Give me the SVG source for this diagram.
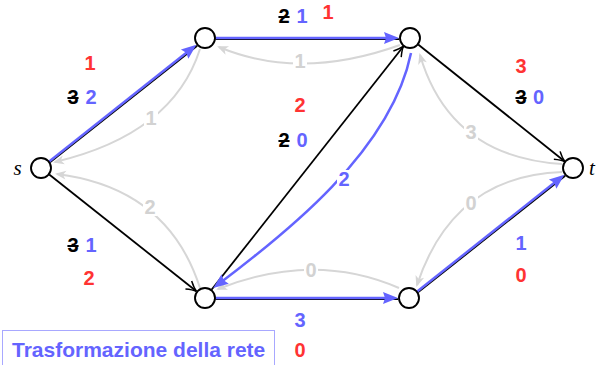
<svg xmlns="http://www.w3.org/2000/svg" width="598" height="365" viewBox="0 0 598 365">
<style>
.node{fill:#fff;stroke:#000;stroke-width:1.9}
.lbl{font-family:"Liberation Sans",Arial,sans-serif;font-weight:bold;font-size:20px;text-anchor:middle}
.red{fill:#ff3333}
.blue{fill:#6464ff}
.gray{fill:#d2d2d2}
.strike{fill:#000;text-decoration:line-through}
.gline{fill:none;stroke:#d6d6d6;stroke-width:2}
.bline{fill:none;stroke:#6464ff;stroke-width:2.5}
.kline{fill:none;stroke:#000;stroke-width:1.8}
.gap{fill:#fff}
.nm{font-family:"Liberation Serif","Times New Roman",serif;font-style:italic;font-size:21px}
</style>
<defs>
<marker id="ag" markerWidth="12" markerHeight="10" refX="9" refY="5" orient="auto" markerUnits="userSpaceOnUse" overflow="visible"><path d="M0,0.5 L11,5 L0,9.5 L3,5 Z" fill="#d6d6d6"/></marker>
<marker id="ab" markerWidth="16" markerHeight="12" refX="9" refY="6" orient="auto" markerUnits="userSpaceOnUse" overflow="visible"><path d="M0,0 L15,6 L0,12 L2,6 Z" fill="#6464ff"/></marker>
<marker id="ak" markerWidth="12" markerHeight="12" refX="10" refY="6" orient="auto" markerUnits="userSpaceOnUse" overflow="visible"><path d="M0,1 Q6,5 10,6 Q6,7 0,11" fill="none" stroke="#000" stroke-width="1.5"/></marker>
</defs>

<g id="connectors">
  <!-- residual (gray) arcs -->
  <path class="gline" d="M200,49 Q173,134 55,162" marker-end="url(#ag)"/>
  <path class="gline" d="M200,288 Q168,188 57,174" marker-end="url(#ag)"/>
  <path class="gline" d="M400,45 Q300,81 219,47" marker-end="url(#ag)"/>
  <path class="gline" d="M562,164 Q450,157 420,55" marker-end="url(#ag)"/>
  <path class="gline" d="M562,172 Q453,176 417,285" marker-end="url(#ag)"/>
  <path class="gline" d="M399,288 Q314,251 218,289" marker-end="url(#ag)"/>

  <!-- black network edges -->
  <line class="kline" x1="50" y1="162.4" x2="197.2" y2="45.7"/>
  <line class="kline" x1="215.5" y1="39.2" x2="399" y2="39.2"/>
  <line class="kline" x1="215.5" y1="299.2" x2="398" y2="299.2"/>
  <line class="kline" x1="418" y1="292.4" x2="565.2" y2="175.7"/>
  <line class="kline" x1="49.2" y1="174.5" x2="196.4" y2="291.2" marker-end="url(#ak)"/>
  <line class="kline" x1="211.5" y1="289.8" x2="403.5" y2="46.2" marker-end="url(#ak)"/>
  <line class="kline" x1="418.2" y1="44.5" x2="564.8" y2="161.5" marker-end="url(#ak)"/>

  <!-- blue flow edges -->
  <line class="bline" x1="49.2" y1="161.5" x2="191.7" y2="48.5" marker-end="url(#ab)"/>
  <line class="bline" x1="215.5" y1="38" x2="393" y2="38" marker-end="url(#ab)"/>
  <line class="bline" x1="215.5" y1="298" x2="392" y2="298" marker-end="url(#ab)"/>
  <line class="bline" x1="417.2" y1="291.5" x2="559.7" y2="178.5" marker-end="url(#ab)"/>
  <path class="bline" d="M411,53 C391,151 285,234 218,284.5" marker-end="url(#ab)"/>

  <!-- label gaps -->
  <rect class="gap" x="144" y="109" width="14" height="19"/>
  <rect class="gap" x="143" y="197" width="14" height="19"/>
  <rect class="gap" x="293" y="52" width="14" height="19"/>
  <rect class="gap" x="464" y="124" width="14" height="19"/>
  <rect class="gap" x="464" y="194" width="14" height="19"/>
  <rect class="gap" x="304" y="261" width="14" height="19"/>
  <rect class="gap" x="337" y="170" width="14" height="19"/>

  <!-- arc labels -->
  <text class="lbl gray" x="151" y="125">1</text>
  <text class="lbl gray" x="150" y="214">2</text>
  <text class="lbl gray" x="300" y="68">1</text>
  <text class="lbl gray" x="471" y="139">3</text>
  <text class="lbl gray" x="471" y="210">0</text>
  <text class="lbl gray" x="311" y="277">0</text>
  <text class="lbl blue" x="344" y="186">2</text>

  <!-- edge labels -->
  <text class="lbl red" x="90" y="70">1</text>
  <text class="lbl strike" x="73" y="104">3</text>
  <text class="lbl blue" x="91" y="104">2</text>

  <text class="lbl strike" x="284" y="23">2</text>
  <text class="lbl blue" x="302" y="23">1</text>
  <text class="lbl red" x="328" y="18.5">1</text>

  <text class="lbl red" x="300" y="112">2</text>
  <text class="lbl strike" x="284" y="147">2</text>
  <text class="lbl blue" x="302" y="147">0</text>

  <text class="lbl red" x="521" y="73">3</text>
  <text class="lbl strike" x="521" y="104">3</text>
  <text class="lbl blue" x="538.5" y="104">0</text>

  <text class="lbl strike" x="73" y="252">3</text>
  <text class="lbl blue" x="91" y="252">1</text>
  <text class="lbl red" x="89" y="285">2</text>

  <text class="lbl blue" x="300" y="327">3</text>
  <text class="lbl red" x="300" y="357">0</text>

  <text class="lbl blue" x="521" y="250">1</text>
  <text class="lbl red" x="521" y="282">0</text>
</g>

<g id="s"><circle class="node" cx="41" cy="168" r="10"/><text class="nm" x="17.5" y="175" text-anchor="middle">s</text></g>
<g id="a"><circle class="node" cx="205" cy="38" r="10"/></g>
<g id="b"><circle class="node" cx="410" cy="38" r="10"/></g>
<g id="c"><circle class="node" cx="205" cy="298" r="10"/></g>
<g id="d"><circle class="node" cx="409" cy="298" r="10"/></g>
<g id="t"><circle class="node" cx="573" cy="168" r="10"/><text class="nm" x="592" y="175" text-anchor="middle">t</text></g>

<g id="legend">
  <rect x="2.5" y="330.5" width="272" height="40" fill="none" stroke="#a8a8ff" stroke-width="1"/>
  <text x="12" y="357" font-family="'Liberation Sans',Arial,sans-serif" font-weight="bold" font-size="21" fill="#6464ff">Trasformazione della rete</text>
</g>
</svg>
